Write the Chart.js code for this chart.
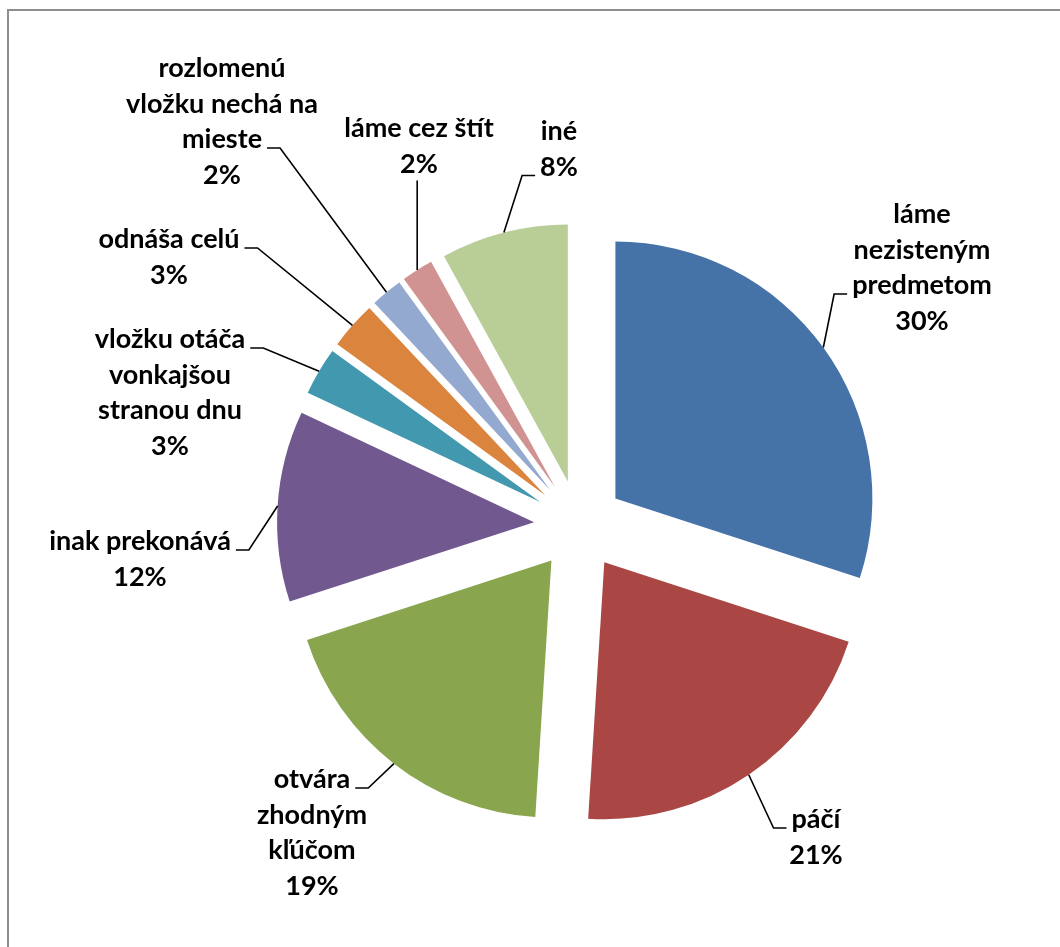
<!DOCTYPE html>
<html>
<head>
<meta charset="utf-8">
<script src="https://cdn.jsdelivr.net/npm/chart.js@4.4.0/dist/chart.umd.min.js"></script>
<style>
  html, body { margin: 0; padding: 0; background: #fff; overflow: hidden; }
  #wrap { position: relative; width: 1060px; height: 947px; overflow: hidden; }
  #frame { position: absolute; left: 7px; top: 9px; width: 1100px; height: 1000px; border: 2px solid #8e8e8e; }
  #pie { position: absolute; left: 0; top: 0; }
</style>
</head>
<body>
<div id="wrap">
  <div id="frame"></div>
  <canvas id="pie" width="1060" height="947"></canvas>
</div>
<script>
var kategorie = [
  "láme nezisteným predmetom",
  "páčí",
  "otvára zhodným kľúčom",
  "inak prekonává",
  "vložku otáča vonkajšou stranou dnu",
  "odnáša celú",
  "rozlomenú vložku nechá na mieste",
  "láme cez štít",
  "iné"
];
var podiely = [30, 21, 19, 12, 3, 3, 2, 2, 8];
var farby = ["#4572A7", "#AA4643", "#89A54E", "#71588F", "#4198AF", "#DB843D", "#93A9CF", "#D19392", "#B9CD96"];

// how far every slice is pulled out from the centre
var ODSUN = 45;
var RIADOK = 35.5;

// label layout around the pie centre: text centre (dx), first baseline (dy),
// words on each wrapped line, side where the leader line enters and on which line
var popisky = [
  { dx: 343, dy: -302, riadky: [1, 1, 1], strana: "left", riadok: 2 },
  { dx: 237, dy: 303, riadky: [1], strana: "left", riadok: 0 },
  { dx: -267, dy: 263, riadky: [1, 1, 1], strana: "right", riadok: 0 },
  { dx: -439, dy: 25, riadky: [2], strana: "right", riadok: 0 },
  { dx: -409, dy: -177, riadky: [2, 1, 2], strana: "right", riadok: 0 },
  { dx: -410, dy: -277, riadky: [2], strana: "right", riadok: 0 },
  { dx: -357, dy: -448, riadky: [1, 3, 1], strana: "right", riadok: 2 },
  { dx: -160, dy: -388, riadky: [3], strana: "bottom", riadok: 1 },
  { dx: -20, dy: -385, riadky: [1], strana: "left", riadok: 1 }
];

// pie whose slices are drawn shifted outwards along their middle angle
class VysunutyKolac extends Chart.PieController {
  draw() {
    var ctx = this.chart.ctx;
    var area = this.chart.chartArea;
    this._cachedMeta.data.forEach(function (arc) {
      var p = arc.getProps(["startAngle", "endAngle"], true);
      var mid = (p.startAngle + p.endAngle) / 2;
      ctx.save();
      ctx.translate(Math.cos(mid) * ODSUN, Math.sin(mid) * ODSUN);
      arc.draw(ctx, area);
      ctx.restore();
    });
  }
}
VysunutyKolac.id = "vysunutyKolac";
Chart.register(VysunutyKolac);

var popiskyPlugin = {
  id: "popisky",
  afterDraw: function (chart) {
    var ctx = chart.ctx;
    var arcs = chart.getDatasetMeta(0).data;
    var spolu = podiely.reduce(function (a, b) { return a + b; }, 0);
    ctx.save();
    ctx.font = "bold 27px Lato";
    ctx.fillStyle = "#000";
    ctx.strokeStyle = "#000";
    ctx.lineWidth = 1.6;
    ctx.textAlign = "center";
    ctx.textBaseline = "alphabetic";
    arcs.forEach(function (arc, i) {
      var p = arc.getProps(["x", "y", "startAngle", "endAngle", "outerRadius"], true);
      var mid = (p.startAngle + p.endAngle) / 2;
      var ex = p.x + Math.cos(mid) * (ODSUN + p.outerRadius);
      var ey = p.y + Math.sin(mid) * (ODSUN + p.outerRadius);
      var lay = popisky[i];
      var slova = kategorie[i].split(" ");
      var riadky = [];
      var k = 0;
      lay.riadky.forEach(function (n) {
        riadky.push(slova.slice(k, k + n).join(" "));
        k += n;
      });
      riadky.push(Math.round(podiely[i] / spolu * 100) + "%");
      var cx = p.x + lay.dx;
      var by = p.y + lay.dy;
      riadky.forEach(function (t, j) {
        ctx.fillText(t, cx, by + j * RIADOK);
      });
      ctx.beginPath();
      if (lay.strana === "bottom") {
        ctx.moveTo(ex, ey);
        ctx.lineTo(ex, by + (riadky.length - 1) * RIADOK + 8);
      } else {
        var ty = by + lay.riadok * RIADOK;
        var pol = ctx.measureText(riadky[lay.riadok]).width / 2;
        var smer = lay.strana === "left" ? -1 : 1;
        var vnutro = cx + smer * (pol + 5);
        var von = vnutro + smer * 13;
        ctx.moveTo(ex, ey);
        ctx.lineTo(von, ty);
        ctx.lineTo(vnutro, ty);
      }
      ctx.stroke();
    });
    ctx.restore();
  }
};

new Chart(document.getElementById("pie"), {
  type: "vysunutyKolac",
  data: {
    labels: kategorie,
    datasets: [{
      data: podiely,
      backgroundColor: farby,
      borderWidth: 0
    }]
  },
  options: {
    responsive: false,
    animation: false,
    layout: { padding: { top: 268, bottom: 165, left: 322, right: 224 } },
    plugins: {
      legend: { display: false },
      tooltip: { enabled: false }
    }
  },
  plugins: [popiskyPlugin]
});
</script>
</body>
</html>
